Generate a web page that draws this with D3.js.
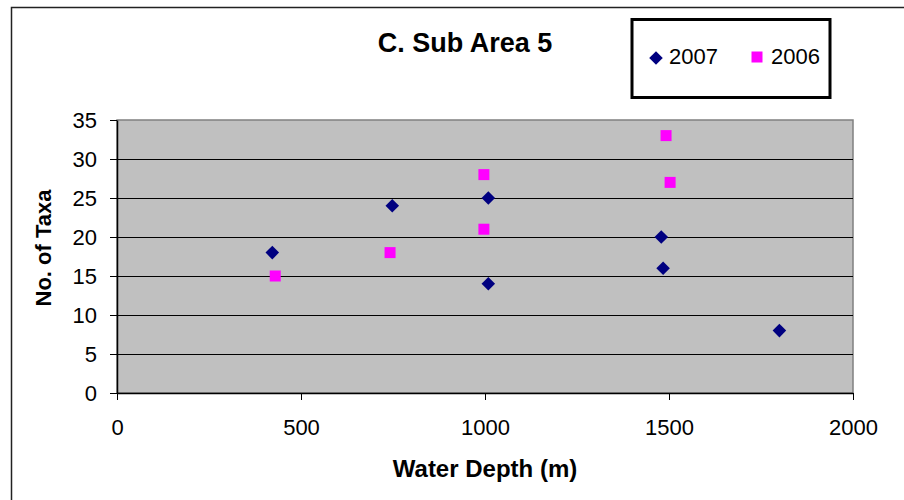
<!DOCTYPE html>
<html>
<head>
<meta charset="utf-8">
<script src="https://cdn.jsdelivr.net/npm/d3@7"></script>
<style>
  body { margin: 0; background: #fff; }
  text { font-family: "Liberation Sans", Arial, sans-serif; }
</style>
</head>
<body>
<div id="chart"></div>
<script>
const width = 904;
const height = 500;

// data
const depth2007 = [422, 748, 1009, 1009, 1479, 1484, 1800];
const taxa2007 = [18, 24, 25, 14, 20, 16, 8];
const depth2006 = [430, 742, 997, 997, 1492, 1503];
const taxa2006 = [15, 18, 28, 21, 33, 27];
const xTicks = [0, 500, 1000, 1500, 2000];
const yTicks = [0, 5, 10, 15, 20, 25, 30, 35];
const seriesNames = ["2007", "2006"];

const margin = { left: 117, right: 51, top: 120, bottom: 107 };
const plotW = width - margin.left - margin.right;
const plotH = height - margin.top - margin.bottom;

const svg = d3.select("#chart")
  .append("svg")
  .attr("width", width)
  .attr("height", height);

// outer chart frame
svg.append("rect")
  .attr("x", 11.5).attr("y", 7.5)
  .attr("width", 1000).attr("height", 1000)
  .attr("fill", "none")
  .attr("stroke", "#222")
  .attr("stroke-width", 1.5);

const x = d3.scaleLinear().domain([0, 2000]).range([0, plotW]);
const y = d3.scaleLinear().domain([0, 35]).range([plotH, 0]);

const g = svg.append("g")
  .attr("transform", `translate(${margin.left},${margin.top})`);

// plot area
g.append("rect")
  .attr("width", plotW).attr("height", plotH)
  .attr("fill", "#c0c0c0")
  .attr("stroke", "#808080")
  .attr("stroke-width", 1.5);

// gridlines
g.selectAll(".grid")
  .data(yTicks.filter(d => d > 0 && d < 35))
  .enter()
  .append("line")
  .attr("x1", 0).attr("x2", plotW)
  .attr("y1", d => Math.round(y(d)) + 0.5)
  .attr("y2", d => Math.round(y(d)) + 0.5)
  .attr("stroke", "#000")
  .attr("stroke-width", 1);

// axes
const yAxis = g.append("g")
  .call(d3.axisLeft(y).tickValues(yTicks).tickFormat(d3.format("d"))
    .tickSize(7).tickPadding(13).tickSizeOuter(0));
const xAxis = g.append("g")
  .attr("transform", `translate(0,${plotH})`)
  .call(d3.axisBottom(x).tickValues(xTicks).tickFormat(d3.format("d"))
    .tickSize(7).tickPadding(19).tickSizeOuter(0));

[xAxis, yAxis].forEach(a => {
  a.select(".domain").attr("stroke", "#000").attr("stroke-width", 1.5);
  a.selectAll(".tick line").attr("stroke", "#000");
  a.selectAll("text")
    .attr("fill", "#000")
    .style("font-size", "22px")
    .style("font-family", "'Liberation Sans', Arial, sans-serif");
});

// points (diamond = square turned 45 degrees)
const diamond = d3.symbol().type(d3.symbolSquare).size(92);
const square = d3.symbol().type(d3.symbolSquare).size(121);

g.selectAll(".p2006")
  .data(depth2006.map((d, i) => [d, taxa2006[i]]))
  .enter()
  .append("path")
  .attr("d", square)
  .attr("transform", d => `translate(${x(d[0])},${y(d[1])})`)
  .attr("fill", "#ff00ff");

g.selectAll(".p2007")
  .data(depth2007.map((d, i) => [d, taxa2007[i]]))
  .enter()
  .append("path")
  .attr("d", diamond)
  .attr("transform", d => `translate(${x(d[0])},${y(d[1])}) rotate(45)`)
  .attr("fill", "#000080");

// title
svg.append("text")
  .attr("x", 465).attr("y", 52)
  .attr("text-anchor", "middle")
  .style("font-size", "27px")
  .style("font-weight", "bold")
  .text("C. Sub Area 5");

// axis titles
svg.append("text")
  .attr("x", margin.left + plotW / 2).attr("y", 477)
  .attr("text-anchor", "middle")
  .style("font-size", "24px")
  .style("font-weight", "bold")
  .text("Water Depth (m)");

svg.append("text")
  .attr("transform", "translate(51,248) rotate(-90)")
  .attr("text-anchor", "middle")
  .style("font-size", "22px")
  .style("font-weight", "bold")
  .text("No. of Taxa");

// legend
const legend = svg.append("g");
legend.append("rect")
  .attr("x", 632).attr("y", 19.5)
  .attr("width", 198).attr("height", 78)
  .attr("fill", "#fff")
  .attr("stroke", "#000")
  .attr("stroke-width", 3);

legend.append("path")
  .attr("d", diamond)
  .attr("transform", "translate(656,58) rotate(45)")
  .attr("fill", "#000080");
legend.append("text")
  .attr("x", 669).attr("y", 64)
  .style("font-size", "22px")
  .text(seriesNames[0]);

legend.append("path")
  .attr("d", square)
  .attr("transform", "translate(757,57)")
  .attr("fill", "#ff00ff");
legend.append("text")
  .attr("x", 771).attr("y", 64)
  .style("font-size", "22px")
  .text(seriesNames[1]);
</script>
</body>
</html>
